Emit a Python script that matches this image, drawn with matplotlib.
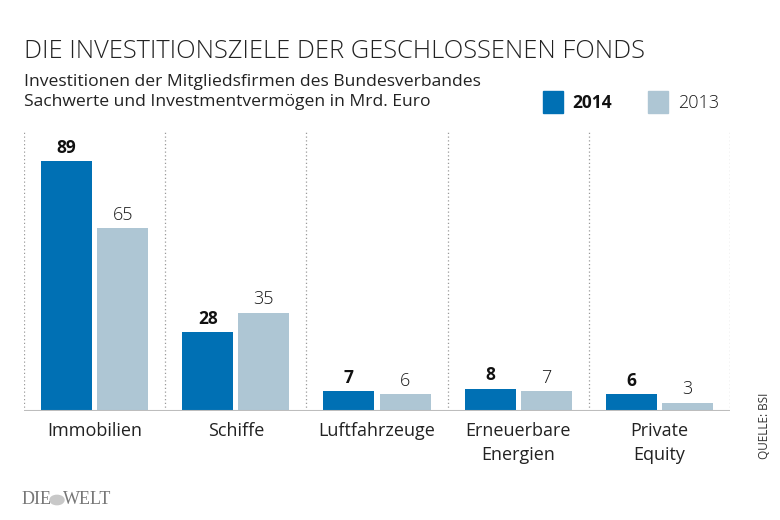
import matplotlib
matplotlib.use("Agg")
import matplotlib.pyplot as plt
import numpy as np

categories = ["Immobilien", "Schiffe", "Luftfahrzeuge", "Erneuerbare\nEnergien", "Private\nEquity"]
values_2014 = [89, 28, 7, 8, 6]
values_2013 = [65, 35, 6, 7, 3]
series_labels = ["2014", "2013"]

title = "DIE INVESTITIONSZIELE DER GESCHLOSSENEN FONDS"
subtitle = "Investitionen der Mitgliedsfirmen des Bundesverbandes\nSachwerte und Investmentvermögen in Mrd. Euro"
source = "QUELLE: BSI"

FONT = ["Open Sans", "DejaVu Sans"]
plt.rcParams["font.family"] = FONT

C2014 = "#0070b4"
C2013 = "#aec6d4"
TXT = "#222222"

W, H = 780, 520
fig = plt.figure(figsize=(W / 100, H / 100), dpi=100)
fig.patch.set_facecolor("white")

ax = fig.add_axes([24 / W, 1 - 411 / H, (730 - 24) / W, (411 - 130) / H])
n = len(categories)
x = np.arange(n) + 0.5
bw = 0.362
off = 0.199
ax.bar(x - off, values_2014, bw, color=C2014, zorder=2)
ax.bar(x + off, values_2013, bw, color=C2013, zorder=2)
ax.set_xlim(0, n)
ax.set_ylim(0, 100)
for s in ax.spines.values():
    s.set_visible(False)
ax.set_xticks([])
ax.set_yticks([])
ax.axhline(0, color="#bdbdbd", lw=1.5, zorder=3)
for b in range(n + 1):
    ax.axvline(b, color="#9a9a9a", lw=0.9, ls=(0, (1, 2)), zorder=1)

for xi, v in zip(x, values_2014):
    ax.annotate(str(v), (xi - off, v), xytext=(0, 3), textcoords="offset points",
                ha="center", va="bottom", fontsize=12.5, fontweight="bold", color="#111111")
for xi, v in zip(x, values_2013):
    ax.annotate(str(v), (xi + off, v), xytext=(0, 3), textcoords="offset points",
                ha="center", va="bottom", fontsize=13, fontweight="light", color="#1a1a1a")
for xi, c in zip(x, categories):
    ax.text(xi, -4.0, c, ha="center", va="top", fontsize=13, color=TXT, linespacing=1.4)

fig.text(24 / W, 1 - 52 / H, title, ha="left", va="center", fontsize=18.3,
         fontweight="light", color="#222222")
fig.text(24 / W, 1 - 92 / H, subtitle, ha="left", va="center", fontsize=12.6, color=TXT,
         linespacing=1.3)

# legend
fig.patches.append(plt.Rectangle((543 / W, 1 - 113 / H), 20 / W, 22 / H, transform=fig.transFigure,
                                 color=C2014, figure=fig))
fig.text(572 / W, 1 - 103 / H, series_labels[0], ha="left", va="center", fontsize=12.5,
         fontweight="bold", color="#111111")
fig.patches.append(plt.Rectangle((648 / W, 1 - 113 / H), 20 / W, 22 / H, transform=fig.transFigure,
                                 color=C2013, figure=fig))
fig.text(678 / W, 1 - 103 / H, series_labels[1], ha="left", va="center", fontsize=13,
         fontweight="light", color="#1a1a1a")

fig.text(764 / W, 1 - 426 / H, source, rotation=90, ha="center", va="center", fontsize=8.5, color="#333333")
fig.text(22 / W, 1 - 500 / H, "DIE", ha="left", va="center", fontsize=13,
         family=["Liberation Serif", "DejaVu Serif"], color="#777777")
fig.text(63 / W, 1 - 500 / H, "WELT", ha="left", va="center", fontsize=13,
         family=["Liberation Serif", "DejaVu Serif"], color="#777777")
fig.patches.append(plt.Circle((57 / W, 1 - 500 / H), 7 / W, transform=fig.transFigure,
                              color="#c8c8c8", figure=fig))

fig.savefig("out.png", dpi=100, facecolor="white")
